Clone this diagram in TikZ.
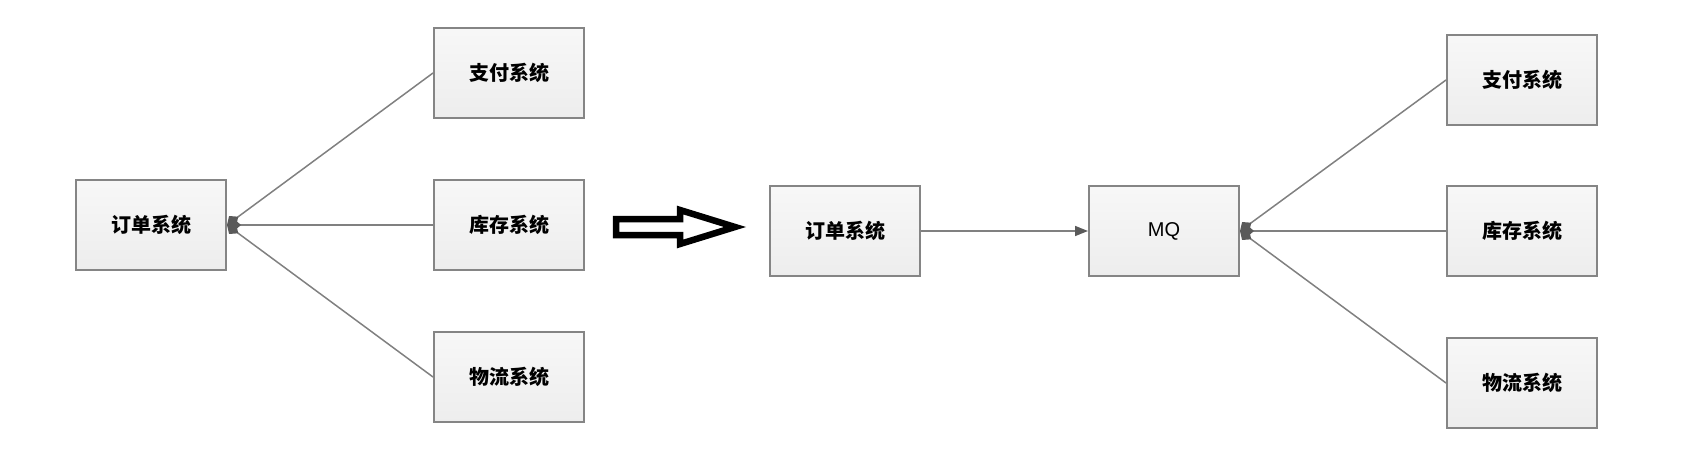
\documentclass[tikz,border=0pt]{standalone}
\usepackage{fontspec}
\setmainfont{Liberation Sans}
\newfontfamily\cjk{Noto Sans CJK SC}
\usetikzlibrary{arrows.meta}

\definecolor{boxgray}{HTML}{858585}
\definecolor{linegray}{HTML}{808080}
\definecolor{tipgray}{HTML}{5A5A5A}

\tikzset{
  sysbox/.style={draw=boxgray, line width=2pt, top color=white!97!black,
    bottom color=black!7, minimum width=150pt, minimum height=90pt,
    font=\cjk\bfseries\fontsize{20}{24}\selectfont},
  mqbox/.style={sysbox, font=\fontsize{20}{24}\selectfont},
  link/.style={draw=linegray, line width=1.5pt},
  gather/.style={link, -{Diamond[length=14pt,width=12pt,color=tipgray]}},
  send/.style={link, -{Triangle[length=13pt,width=10pt,color=tipgray]}}
}

\begin{document}
\begin{tikzpicture}[x=1pt,y=-1pt]
  \useasboundingbox (0,0) rectangle (1699,457);

  \def\gap{152} % vertical step of the columns

  % before: order system talks to every system itself
  \node[sysbox] (order1) at (151,225) {订单系统};
  \node[sysbox] (pay1)   at (509,225-\gap) {支付系统};
  \node[sysbox] (stock1) at (509,225) {库存系统};
  \node[sysbox] (ship1)  at (509,225+\gap) {物流系统};

  \foreach \n in {pay1,stock1,ship1}
    \draw[gather] (\n.west) -- (order1.east);

  % big hollow arrow
  \draw[line width=6.5pt] (616,219) -- (680,219) -- (680,210) -- (735,227)
    -- (680,244) -- (680,235) -- (616,235) -- cycle;

  % after: order system goes through MQ
  \node[sysbox] (order2) at (845,231) {订单系统};
  \node[mqbox]  (mq)     at (1164,231) {MQ};
  \node[sysbox] (pay2)   at (1522,231-\gap+1) {支付系统};
  \node[sysbox] (stock2) at (1522,231) {库存系统};
  \node[sysbox] (ship2)  at (1522,231+\gap) {物流系统};

  \draw[send] (order2) -- (mq);
  \foreach \n in {pay2,stock2,ship2}
    \draw[gather] (\n.west) -- (mq.east);

\end{tikzpicture}
\end{document}
